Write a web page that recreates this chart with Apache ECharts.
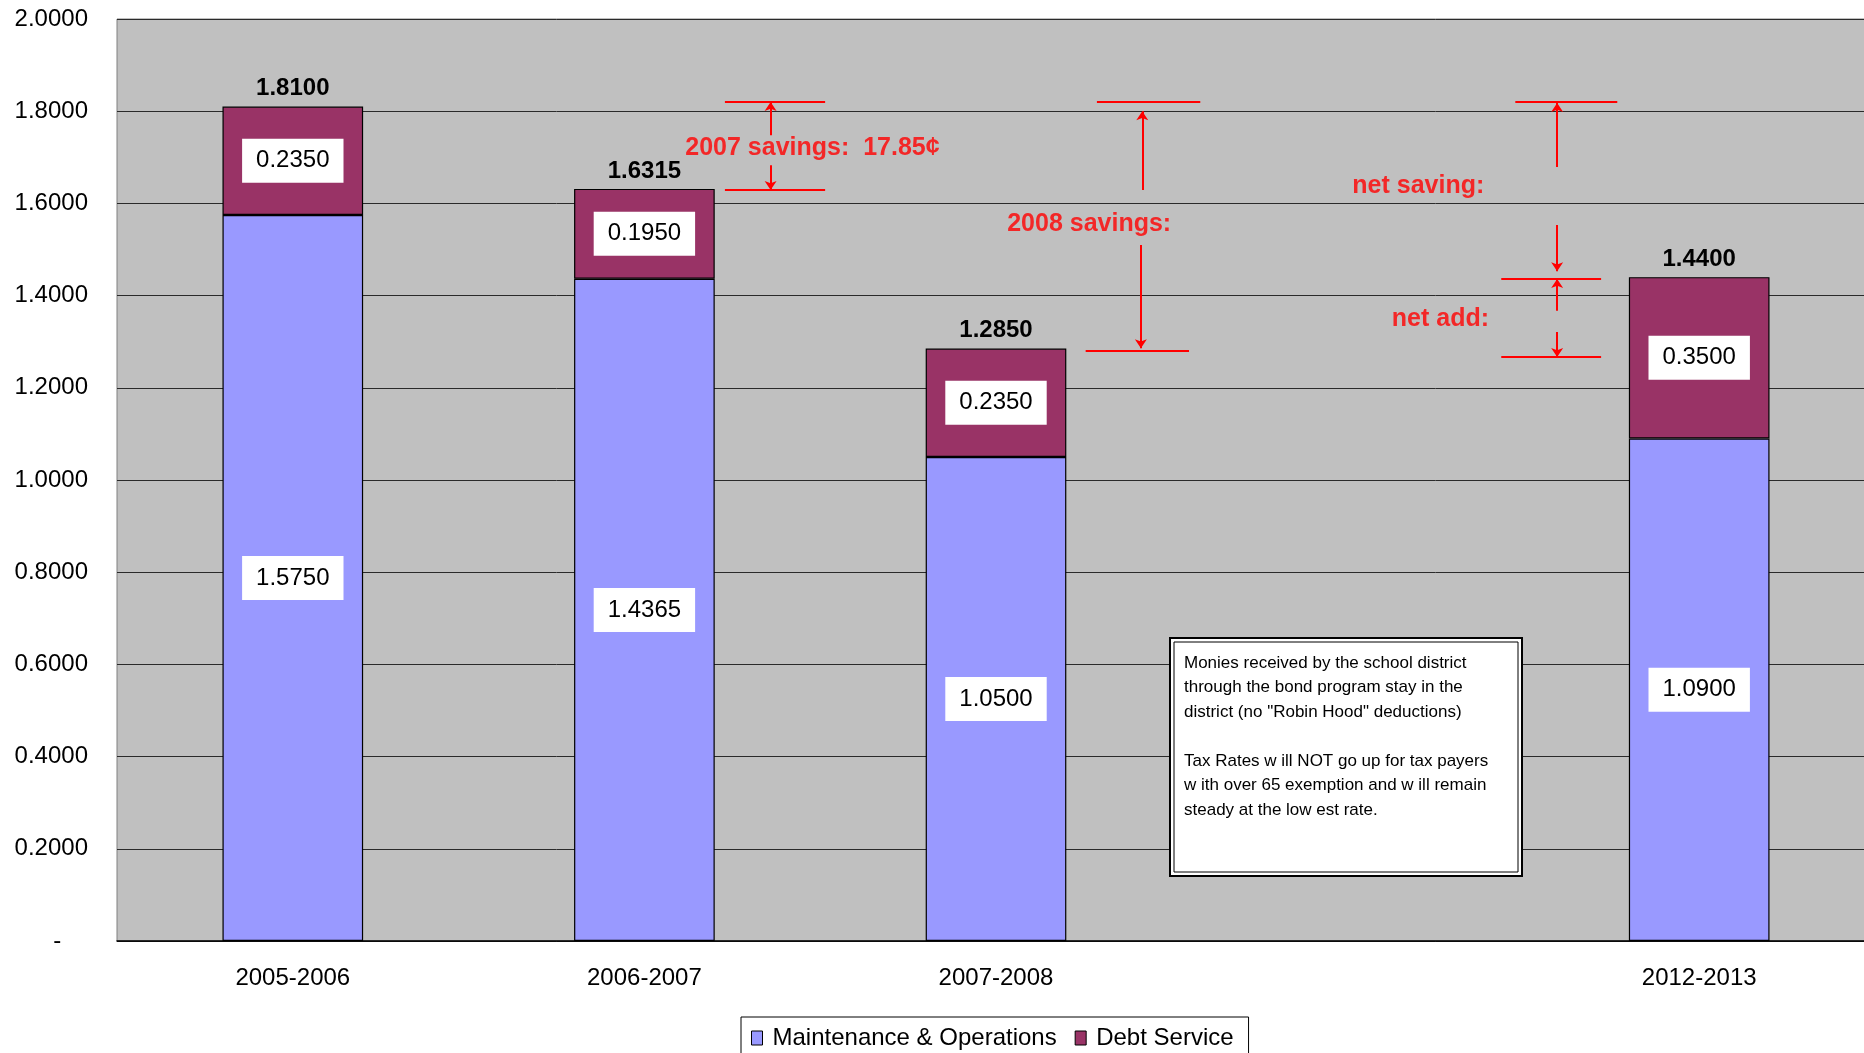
<!DOCTYPE html>
<html>
<head>
<meta charset="utf-8">
<script src="https://cdn.jsdelivr.net/npm/echarts@6/dist/echarts.min.js"></script>
<style>
  html, body { margin: 0; padding: 0; background: #fff; overflow: hidden; }
  /* plot area runs a little past the right edge of the window, as in the original */
  #chart { width: 1880px; height: 1053px; }
</style>
</head>
<body>
<div id="chart"></div>
<script>
// ---- data ----
let years = ['2005-2006', '2006-2007', '2007-2008', '', '2012-2013'];
let maintOps = [1.5750, 1.4365, 1.0500, '-', 1.0900];
let debtService = [0.2350, 0.1950, 0.2350, '-', 0.3500];
let totals = [1.8100, 1.6315, 1.2850, '-', 1.4400];

// annotation brackets, x in category units (0 = first year), y in rate
let bracketLines = [ // [x0, x1, y]
  [1.229, 1.514, 1.820], [1.229, 1.514, 1.629],
  [2.287, 2.581, 1.820], [2.255, 2.549, 1.280],
  [3.477, 3.767, 1.820], [3.437, 3.721, 1.436], [3.437, 3.721, 1.267]
];
let arrows = [ // [x, yFrom, yTo]
  [1.359, 1.748, 1.820], [1.359, 1.683, 1.629],
  [2.416, 1.629, 1.800], [2.412, 1.510, 1.286],
  [3.596, 1.679, 1.818], [3.596, 1.553, 1.453],
  [3.596, 1.367, 1.436], [3.596, 1.321, 1.267]
];
let notes = [ // [x, y, text]
  [1.478, 1.720, '2007 savings:  17.85\u00a2'],
  [2.265, 1.555, '2008 savings:'],
  [3.201, 1.638, 'net saving:'],
  [3.264, 1.349, 'net add:']
];
let boxText = [
  'Monies received by the school district',
  'through the bond program stay in the',
  'district (no "Robin Hood" deductions)',
  '',
  'Tax Rates w ill NOT go up for tax payers',
  'w ith over 65 exemption and w ill remain',
  'steady at the low est rate.'
];

const FONT = '"Liberation Sans", Arial, sans-serif';
let myChart = echarts.init(document.getElementById('chart'));

let lineData = bracketLines.map(d => ({ coords: [[d[0], d[2]], [d[1], d[2]]] }));
let arrowData = arrows.map(d => ({ coords: [[d[0], d[1]], [d[0], d[2]]] }));
let noteData = notes.map(d => ({ value: [d[0], d[1]], name: d[2] }));

option = {
  animation: false,
  textStyle: { fontFamily: FONT },
  grid: {
    left: 117, top: 19, width: 1758, height: 922,
    show: true, backgroundColor: '#C0C0C0', borderColor: '#808080', borderWidth: 1
  },
  legend: {
    data: ['Maintenance & Operations', 'Debt Service'],
    left: 741, top: 1017,
    padding: [9, 15, 30, 10],
    itemGap: 18, itemWidth: 11, itemHeight: 14,
    icon: 'rect',
    backgroundColor: '#fff', borderColor: '#000', borderWidth: 1,
    itemStyle: { borderColor: '#000', borderWidth: 1 },
    textStyle: { fontSize: 24, color: '#000', fontFamily: FONT, padding: [0, 0, 0, 5] }
  },
  xAxis: [
    {
      type: 'category',
      data: years,
      axisLine: { lineStyle: { color: '#000', width: 1.5 } },
      axisTick: { show: false },
      axisLabel: { fontSize: 24, color: '#000', margin: 25, fontFamily: FONT }
    },
    { type: 'value', min: -0.5, max: 4.5, show: false }
  ],
  yAxis: {
    type: 'value', min: 0, max: 2, interval: 0.2,
    axisLine: { show: false },
    axisTick: { show: false },
    splitLine: { lineStyle: { color: '#2a2a2a', width: 1 } },
    axisLabel: {
      fontSize: 24, color: '#000', margin: 29, fontFamily: FONT,
      formatter: v => v === 0 ? '-    ' : v.toFixed(4)
    }
  },
  series: [
    {
      name: 'Maintenance & Operations',
      type: 'bar', stack: 'rate', barCategoryGap: '60%',
      data: maintOps,
      itemStyle: { color: '#9999FF', borderColor: '#000', borderWidth: 1.2 },
      label: {
        show: true, position: 'inside', fontSize: 24, color: '#000',
        backgroundColor: '#fff', padding: [10, 14],
        formatter: p => p.value.toFixed(4)
      }
    },
    {
      name: 'Debt Service',
      type: 'bar', stack: 'rate',
      data: debtService,
      itemStyle: { color: '#993366', borderColor: '#000', borderWidth: 1.2 },
      label: {
        show: true, position: 'inside', fontSize: 24, color: '#000',
        backgroundColor: '#fff', padding: [10, 14],
        formatter: p => p.value.toFixed(4)
      }
    },
    {
      name: 'Total',
      type: 'bar', stack: 'rate',
      data: totals.map(t => t === '-' ? '-' : 0),
      itemStyle: { color: 'rgba(0,0,0,0)', borderWidth: 0 },
      label: {
        show: true, position: 'top', distance: 6, fontSize: 24,
        fontWeight: 'bold', color: '#000',
        formatter: p => totals[p.dataIndex].toFixed(4)
      }
    },
    {
      type: 'lines', coordinateSystem: 'cartesian2d',
      xAxisIndex: 1, yAxisIndex: 0,
      symbol: ['none', 'none'],
      lineStyle: { color: '#FF0000', width: 2, opacity: 1 },
      data: lineData
    },
    {
      type: 'lines', coordinateSystem: 'cartesian2d',
      xAxisIndex: 1, yAxisIndex: 0,
      symbol: ['none', 'arrow'], symbolSize: 9,
      lineStyle: { color: '#FF0000', width: 2, opacity: 1 },
      data: arrowData
    },
    {
      type: 'scatter', xAxisIndex: 1, yAxisIndex: 0,
      symbolSize: 0,
      data: noteData,
      label: {
        show: true, position: 'inside', formatter: '{b}',
        fontSize: 25, fontWeight: 'bold', color: '#FF0000'
      }
    }
  ],
  graphic: [
    {
      // text box sits over the grid lines
      type: 'group', left: 1169, top: 637, z: 100,
      children: [
        { type: 'rect', z: 100, shape: { x: 0, y: 0, width: 352, height: 238 },
          style: { fill: '#fff', stroke: '#000', lineWidth: 2 } },
        { type: 'rect', z: 101, shape: { x: 4, y: 4, width: 344, height: 230 },
          style: { fill: '#fff', stroke: '#000', lineWidth: 1 } },
        { type: 'text', z: 102, x: 14, y: 13,
          style: { text: boxText.join('\n'), font: '17px ' + FONT, fill: '#000', lineHeight: 24.5 } }
      ]
    }
  ]
};
myChart.setOption(option);
</script>
</body>
</html>
